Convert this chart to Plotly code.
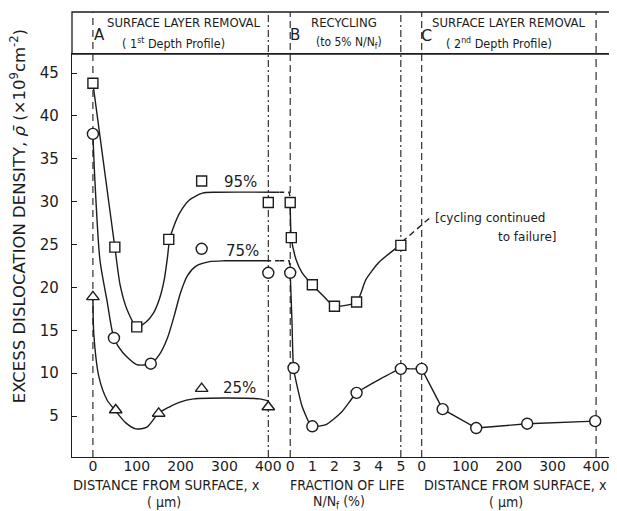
import plotly.graph_objects as go

# ---------------- data ----------------
# Section A: 1st depth profile (x = distance from surface, um)
a95_x = [0, 50, 100, 173, 400]
a95_y = [43.8, 24.7, 15.4, 25.6, 29.9]
a75_x = [0, 48, 132, 400]
a75_y = [37.9, 14.1, 11.1, 21.7]
a25_x = [0, 52, 150, 400]
a25_y = [18.9, 5.7, 5.3, 6.05]

# hand-drawn curves of section A
c95a_x = [0, 25, 50, 62, 78, 100, 120, 138, 152, 163, 170, 175, 185, 198, 220, 250, 282, 418]
c95a_y = [43.8, 34.2, 24.7, 20.3, 17.4, 15.4, 15.9, 17.0, 18.7, 21.0, 23.5, 25.6, 27.2, 28.7, 30.2, 31.0, 31.1, 31.1]
c75a_x = [0, 4, 16, 32, 48, 68, 100, 132, 152, 170, 186, 200, 216, 236, 266, 300, 395]
c75a_y = [37.9, 33.0, 23.2, 18.5, 14.1, 12.4, 11.0, 11.1, 12.2, 14.1, 16.8, 19.4, 21.4, 22.5, 23.0, 23.1, 23.1]
c25a_x = [0, 2, 14, 32, 50, 75, 98, 123, 149, 174, 197, 230, 300, 380, 400]
c25a_y = [18.9, 14.6, 9.5, 6.9, 5.7, 4.2, 3.5, 3.7, 5.3, 6.05, 6.6, 7.0, 7.1, 7.0, 6.75]
# dashed plateau continuations A -> B
d95a_x = [418, 425]
d95a_y = [31.1, 31.1]
d75a_x = [395, 425]
d75a_y = [23.1, 23.1]

# Section B: recycling (x = N/Nf, %)
b95_x = [0, 0.05, 1, 2, 3, 5]
b95_y = [29.9, 25.8, 20.3, 17.8, 18.3, 24.9]
b75_x = [0, 0.15, 1, 3, 5]
b75_y = [21.7, 10.6, 3.8, 7.7, 10.5]
c95b_x = [0, 0.05, 0.27, 0.54, 1, 1.53, 2, 3, 3.42, 4.0, 4.95]
c95b_y = [29.9, 25.8, 23.2, 21.7, 20.3, 18.9, 17.8, 18.3, 20.9, 22.9, 24.9]
c75b_x = [0, 0.08, 0.15, 0.32, 0.54, 0.86, 1, 1.62, 2.3, 2.75, 3, 5, 5.45]
c75b_y = [21.7, 16.0, 10.6, 8.4, 6.1, 4.2, 3.8, 4.0, 5.4, 6.9, 7.7, 10.5, 10.5]
d95b_x = [-0.5, -0.05, 0]
d95b_y = [31.1, 31.1, 30.4]
d75b_x = [-0.5, -0.05, 0]
d75b_y = [23.1, 23.1, 22.3]
cont_x = [5.05, 6.35]          # "cycling continued to failure"
cont_y = [25.3, 28.2]

# Section C: 2nd depth profile (x = distance from surface, um)
c_x = [0, 48, 125, 242, 398]
c_y = [10.5, 5.8, 3.6, 4.1, 4.4]
cc_x = [-26, 0, 48, 125, 242, 398]
cc_y = [10.5, 10.5, 5.8, 3.6, 4.1, 4.4]

# series label symbols
lab_x = [248, 248, 248]
lab_y = [32.4, 24.5, 8.2]
lab_sym = ["square", "circle", "triangle-up"]
lab_txt = ["95%", "75%", "25%"]
lab_tx = [336, 341, 334]
lab_ty = [32.3, 24.2, 8.3]

y_ticks = [5, 10, 15, 20, 25, 30, 35, 40, 45]
a_ticks = [0, 100, 200, 300, 400]
b_ticks = [0, 1, 2, 3, 4, 5]
c_ticks = [0, 100, 200, 300, 400]

# ---------------- figure ----------------
INK = "#1c1c1c"
LW = 1.4
FONT = "DejaVu Sans"
COND = "DejaVu Sans Condensed, Liberation Sans Narrow, DejaVu Sans"
NARROW = "Liberation Sans Narrow, DejaVu Sans Condensed, sans-serif"

fig = go.Figure()


def line(x, y, ax, dash="solid", shape="spline", smooth=0.7):
    fig.add_trace(go.Scatter(x=x, y=y, xaxis=ax, yaxis="y", mode="lines",
                             line=dict(color=INK, width=LW, dash=dash, shape=shape,
                                       smoothing=smooth if shape == "spline" else None),
                             hoverinfo="skip", showlegend=False))


def marks(x, y, ax, sym, size=10):
    fig.add_trace(go.Scatter(x=x, y=y, xaxis=ax, yaxis="y", mode="markers",
                             marker=dict(symbol=sym, size=size, color="white",
                                         line=dict(color=INK, width=1.4)),
                             showlegend=False))


# section A
line(c95a_x, c95a_y, "x")
line(c75a_x, c75a_y, "x")
line(c25a_x, c25a_y, "x")
line(d95a_x, d95a_y, "x", dash="5px,4px", shape="linear")
line(d75a_x, d75a_y, "x", dash="5px,4px", shape="linear")
# section B
line(c95b_x, c95b_y, "x2", smooth=0.6)
line(c75b_x, c75b_y, "x2", smooth=0.6)
line(d95b_x, d95b_y, "x2", dash="5px,4px", shape="linear")
line(d75b_x, d75b_y, "x2", dash="5px,4px", shape="linear")
line(cont_x, cont_y, "x2", dash="6px,4px", shape="linear")
# section C
line(cc_x, cc_y, "x3", shape="linear")

marks(a95_x, a95_y, "x", "square", 10)
marks(a75_x, a75_y, "x", "circle", 11)
marks(a25_x, a25_y, "x", "triangle-up", 11)
marks(b95_x, b95_y, "x2", "square", 10)
marks(b75_x, b75_y, "x2", "circle", 11)
marks(c_x, c_y, "x3", "circle", 11)
for xs, ys, s in zip(lab_x, lab_y, lab_sym):
    marks([xs], [ys], "x", s, 10 if s == "square" else 11)

# right-hand tick marks
fig.add_trace(go.Scatter(x=[None], y=[None], xaxis="x3", yaxis="y2", showlegend=False))

common_x = dict(showgrid=False, zeroline=False, showline=True, linecolor=INK, linewidth=1.3,
                mirror=True, ticks="", ticklen=0, tickfont=dict(family=FONT, size=14, color=INK),
                ticklabelstandoff=-4, anchor="y")
# the page body adds an 8px offset, so the figure is 8px smaller than the window
fig.update_layout(
    width=609, height=503,
    margin=dict(l=64, r=0, t=46, b=54),
    paper_bgcolor="white", plot_bgcolor="rgba(0,0,0,0)",
    xaxis=dict(domain=[0, 0.3817], range=[-47.7, 425], tickvals=a_ticks, **common_x),
    xaxis2=dict(domain=[0.3817, 0.6936], range=[-0.495, 7.16], tickvals=b_ticks, **common_x),
    xaxis3=dict(domain=[0.6239, 1.0], range=[-25.1, 443.4], tickvals=c_ticks, **common_x),
    yaxis=dict(range=[0.22, 47.22], tickvals=y_ticks, showgrid=False, zeroline=False,
               showline=True, linecolor=INK, linewidth=1.3, ticks="inside", ticklen=5,
               tickwidth=1.2, tickcolor=INK, anchor="x", ticklabelstandoff=9,
               tickfont=dict(family=FONT, size=15, color=INK)),
    yaxis2=dict(range=[0.22, 47.22], tickvals=y_ticks, overlaying="y", side="right",
                anchor="x3", showline=False, showgrid=False, zeroline=False,
                ticks="inside", ticklen=5, tickwidth=1.2, tickcolor=INK,
                showticklabels=False),
)

HT = 1 + 42 / 403  # top of the header band (paper units)
shapes = [dict(type="rect", xref="paper", yref="paper", x0=0, x1=1.0, y0=1, y1=HT,
               line=dict(color=INK, width=1.3))]
vlines = [("x", 0, "7px,5px"), ("x", 400, "7px,3px,2px,3px"),
          ("x2", 0, "7px,4px"), ("x2", 5, "7px,3px,2px,3px"),
          ("x3", 0, "7px,4px"), ("x3", 400, "8px,5px")]
for ref, xv, dsh in vlines:
    shapes.append(dict(type="line", xref=ref, yref="paper", x0=xv, x1=xv, y0=0, y1=HT,
                       line=dict(color=INK, width=1.1, dash=dsh), layer="below"))
fig.update_layout(shapes=shapes)

ann = []


def text(t, x, y, xref, yref="paper", size=13, fam=FONT, xanchor="center", angle=0):
    ann.append(dict(text=t, x=x, y=y, xref=xref, yref=yref, showarrow=False,
                    xanchor=xanchor, yanchor="middle", textangle=angle,
                    font=dict(family=fam, size=size, color=INK)))


# header
text("A", 16, 1.047, "x", size=15)
text("SURFACE LAYER REMOVAL", 207, 1.079, "x", size=13, fam=NARROW)
text("( 1<sup>st</sup> Depth Profile)", 184, 1.028, "x", size=12.5, fam=COND)
text("B", 0.23, 1.047, "x2", size=15)
text("RECYCLING", 2.43, 1.079, "x2", size=13, fam=COND)
text("(to 5% N/N<sub>f</sub>)", 2.66, 1.028, "x2", size=12, fam=COND)
text("C", 11.4, 1.047, "x3", size=16)
text("SURFACE LAYER REMOVAL", 201, 1.079, "x3", size=13, fam=NARROW)
text("( 2<sup>nd</sup> Depth Profile)", 177, 1.028, "x3", size=12.5, fam=COND)

# series labels
for tx, ty, t in zip(lab_tx, lab_ty, lab_txt):
    text(t, tx, ty, "x", yref="y", size=15)

text("[cycling continued", 27, 28.1, "x3", yref="y", size=12, xanchor="left")
text("to failure]", 171, 25.9, "x3", yref="y", size=12, xanchor="left")

# bottom titles
text("DISTANCE FROM SURFACE, x", 168, -0.0695, "x", size=14.5, fam=COND)
text("( μm)", 161, -0.112, "x", size=14, fam=COND)
text("FRACTION OF LIFE", 2.57, -0.0695, "x2", size=14, fam=COND)
text("N/N<sub>f</sub> (%)", 2.2, -0.112, "x2", size=14, fam=COND)
text("DISTANCE FROM SURFACE, x", 216, -0.0695, "x3", size=14.2, fam=COND)
text("( μm)", 194, -0.112, "x3", size=14, fam=COND)

# y title
text("EXCESS DISLOCATION DENSITY, <i>ρ̄</i> (×10<sup>9</sup>cm<sup>-2</sup>)",
     -0.099, 0.598, "paper", size=16.5, angle=-90)

fig.update_layout(annotations=ann)
fig.write_html("out.html")
